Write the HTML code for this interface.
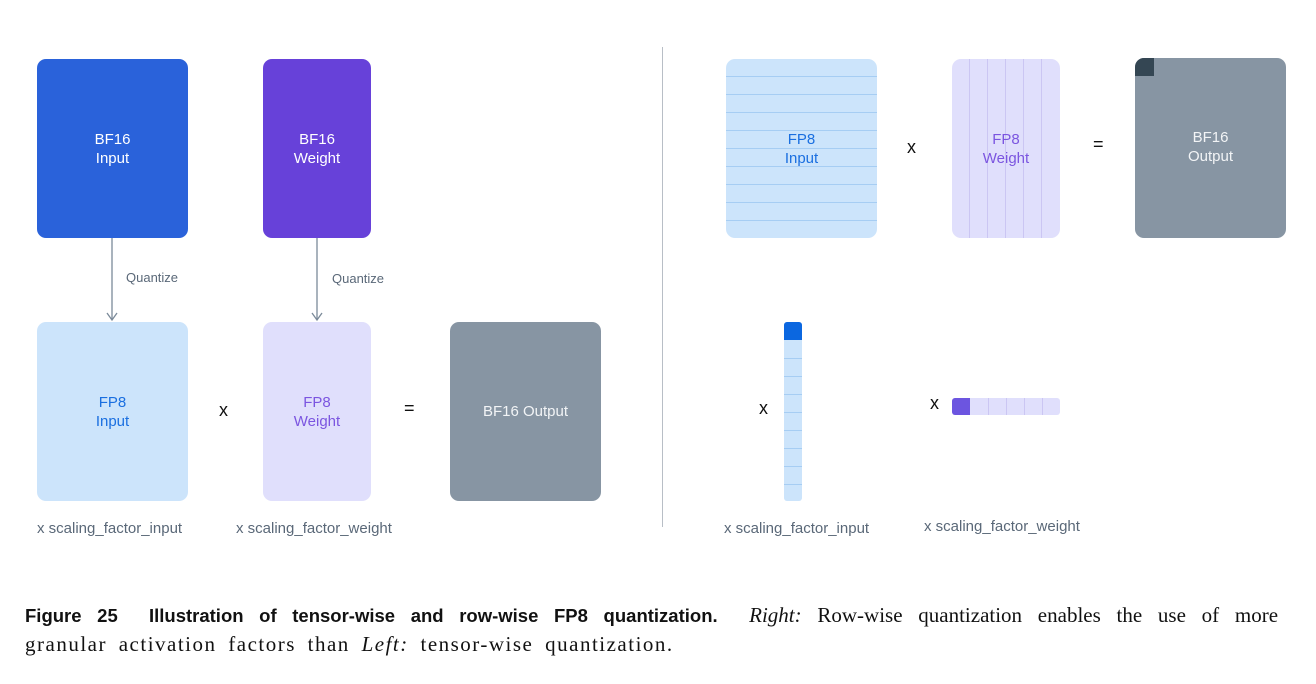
<!DOCTYPE html>
<html><head><style>
body{margin:0;width:1316px;height:684px;background:#fff;position:relative;font-family:"Liberation Sans",sans-serif;overflow:hidden}
.b{position:absolute;border-radius:9px;display:flex;align-items:center;justify-content:center;text-align:center;font-size:15px;line-height:19px;overflow:hidden}
.t{position:absolute;font-size:15px;color:#5a6878}
.op{position:absolute;font-size:18px;color:#111}
.cap{position:absolute;left:25px;width:1253px;font-family:'Liberation Serif',serif;font-size:21px;line-height:29px;color:#111;white-space:nowrap}
</style></head><body>
<div class="b" style="left:37px;top:59px;width:151px;height:179px;background:#2a62da;color:#fff">BF16<br>Input</div>
<div class="b" style="left:263px;top:59px;width:108px;height:179px;background:#6741d9;color:#fff">BF16<br>Weight</div>
<svg style="position:absolute;left:0;top:0" width="700" height="330">
<g stroke="#7b8a99" stroke-width="1.3" fill="none">
<line x1="112" y1="238" x2="112" y2="319"/><polyline points="107,313 112,320 117,313"/>
<line x1="317" y1="238" x2="317" y2="319"/><polyline points="312,313 317,320 322,313"/>
</g></svg>
<div class="t" style="left:126px;top:270px;font-size:13px">Quantize</div>
<div class="t" style="left:332px;top:271px;font-size:13px">Quantize</div>
<div class="b" style="left:37px;top:322px;width:151px;height:179px;background:#cce4fb;color:#1a6fe0">FP8<br>Input</div>
<div class="b" style="left:263px;top:322px;width:108px;height:179px;background:#e0dffc;color:#7b55e0">FP8<br>Weight</div>
<div class="b" style="left:450px;top:322px;width:151px;height:179px;background:#8795a3;color:#f2f4f6">BF16 Output</div>
<div class="op" style="left:219px;top:400px">x</div>
<div class="op" style="left:404px;top:398px">=</div>
<div class="t" style="left:37px;top:520px">x scaling_factor_input</div>
<div class="t" style="left:236px;top:520px">x scaling_factor_weight</div>
<div style="position:absolute;left:662px;top:47px;width:1px;height:480px;background:#b8bec6"></div>
<svg style="position:absolute;left:0;top:0" width="1316" height="540">
<rect x="726" y="59" width="151" height="179" rx="9" fill="#cce4fb"/>
<g stroke="#a6cdf3" stroke-width="1">
<line x1="726" x2="877" y1="76.5" y2="76.5"/><line x1="726" x2="877" y1="94.5" y2="94.5"/><line x1="726" x2="877" y1="112.5" y2="112.5"/><line x1="726" x2="877" y1="130.5" y2="130.5"/><line x1="726" x2="877" y1="148.5" y2="148.5"/><line x1="726" x2="877" y1="166.5" y2="166.5"/><line x1="726" x2="877" y1="184.5" y2="184.5"/><line x1="726" x2="877" y1="202.5" y2="202.5"/><line x1="726" x2="877" y1="220.5" y2="220.5"/>
</g>
<rect x="952" y="59" width="108" height="179" rx="9" fill="#e0dffc"/>
<g stroke="#cbc6f3" stroke-width="1">
<line y1="59" y2="238" x1="969.5" x2="969.5"/><line y1="59" y2="238" x1="987.5" x2="987.5"/><line y1="59" y2="238" x1="1005.5" x2="1005.5"/><line y1="59" y2="238" x1="1023.5" x2="1023.5"/><line y1="59" y2="238" x1="1041.5" x2="1041.5"/>
</g>
<clipPath id="c"><rect x="1135" y="58" width="151" height="180" rx="9"/></clipPath>
<rect x="1135" y="58" width="151" height="180" rx="9" fill="#8795a3"/>
<rect x="1135" y="58" width="19" height="18" fill="#344653" clip-path="url(#c)"/>
<rect x="784" y="322" width="18" height="179" rx="3" fill="#cce4fb"/>
<clipPath id="d"><rect x="784" y="322" width="18" height="179" rx="3"/></clipPath>
<rect x="784" y="322" width="18" height="18" fill="#0b67e0" clip-path="url(#d)"/>
<g stroke="#a6cdf3"><line x1="784" x2="802" y1="358.5" y2="358.5"/><line x1="784" x2="802" y1="376.5" y2="376.5"/><line x1="784" x2="802" y1="394.5" y2="394.5"/><line x1="784" x2="802" y1="412.5" y2="412.5"/><line x1="784" x2="802" y1="430.5" y2="430.5"/><line x1="784" x2="802" y1="448.5" y2="448.5"/><line x1="784" x2="802" y1="466.5" y2="466.5"/><line x1="784" x2="802" y1="484.5" y2="484.5"/></g>
<rect x="952" y="398" width="108" height="17" rx="3" fill="#e0dffc"/>
<clipPath id="e"><rect x="952" y="398" width="108" height="17" rx="3"/></clipPath>
<rect x="952" y="398" width="18" height="17" fill="#6c55e0" clip-path="url(#e)"/>
<g stroke="#cbc6f3"><line y1="398" y2="415" x1="988.5" x2="988.5"/><line y1="398" y2="415" x1="1006.5" x2="1006.5"/><line y1="398" y2="415" x1="1024.5" x2="1024.5"/><line y1="398" y2="415" x1="1042.5" x2="1042.5"/></g>
</svg>
<div class="b" style="left:726px;top:59px;width:151px;height:179px;color:#1a6fe0;background:transparent">FP8<br>Input</div>
<div class="b" style="left:952px;top:59px;width:108px;height:179px;color:#7b55e0;background:transparent">FP8<br>Weight</div>
<div class="b" style="left:1135px;top:58px;width:151px;height:180px;color:#f2f4f6;background:transparent;padding-bottom:2px;box-sizing:border-box">BF16<br>Output</div>
<div class="op" style="left:907px;top:137px">x</div>
<div class="op" style="left:1093px;top:134px">=</div>
<div class="op" style="left:759px;top:398px">x</div>
<div class="op" style="left:930px;top:393px">x</div>
<div class="t" style="left:724px;top:520px">x scaling_factor_input</div>
<div class="t" style="left:924px;top:518px">x scaling_factor_weight</div>
<div class="cap" style="top:601px;white-space:normal;text-align:justify;text-align-last:justify"><b style="font-family:'Liberation Sans',sans-serif;font-size:18.5px">Figure 25&nbsp;&nbsp;Illustration of tensor-wise and row-wise FP8 quantization.</b>&nbsp; <i>Right:</i> Row-wise quantization enables the use of more</div>
<div class="cap" style="top:630px;letter-spacing:1.5px;word-spacing:5px">granular activation factors than <i>Left:</i> tensor-wise quantization.</div>
</body></html>
